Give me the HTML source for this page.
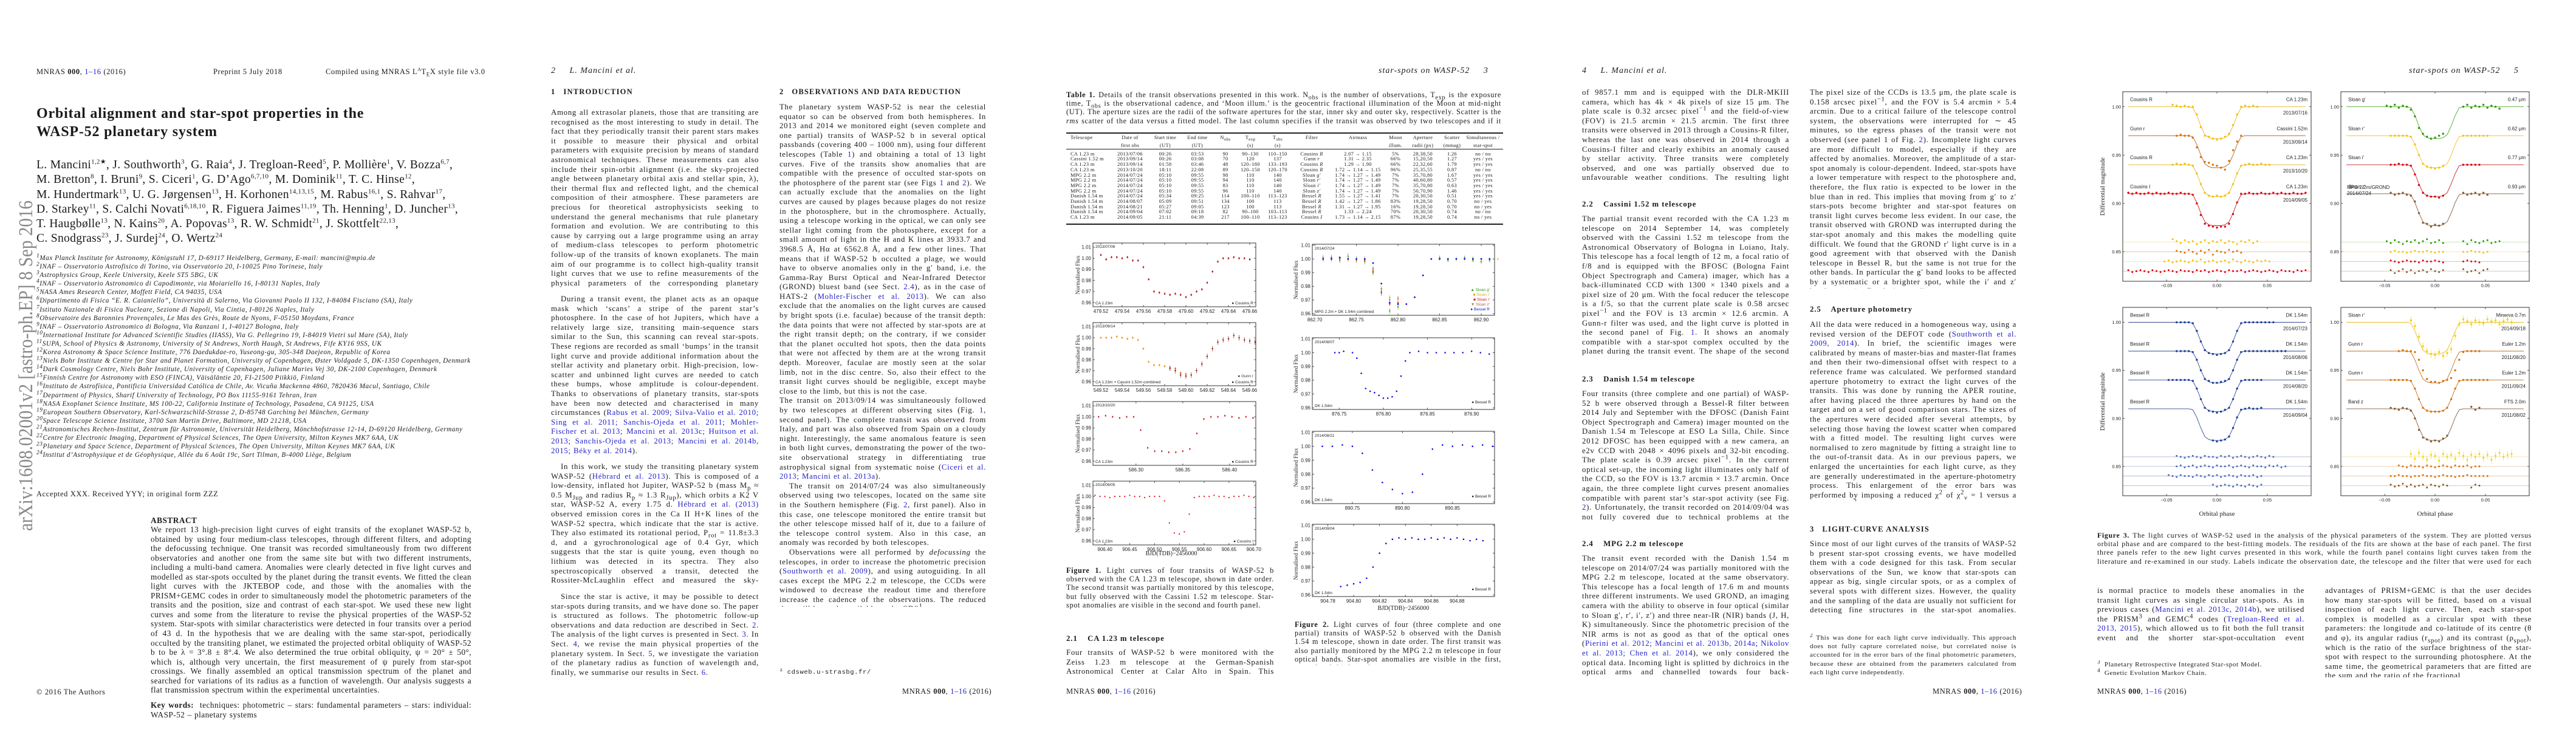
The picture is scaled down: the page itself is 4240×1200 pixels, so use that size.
<!DOCTYPE html>
<html><head><meta charset="utf-8">
<style>
html,body{margin:0;padding:0;background:#fff}
body{width:4240px;height:1200px;position:relative;overflow:hidden;font-family:"Liberation Serif",serif;color:#1a1a1a}
sup,sub{line-height:0}
.a{position:absolute}
.col{position:absolute;font-size:12.8px;line-height:15.6px;letter-spacing:.7px;word-spacing:.5px;text-align:justify;overflow:hidden}
.col p{margin:0;text-indent:0}
.col p+p{text-indent:16px}
.hd{position:absolute;font-size:12.5px;font-weight:bold;letter-spacing:1.2px;white-space:nowrap}
.sub{position:absolute;font-size:12.8px;font-weight:bold;letter-spacing:.9px;white-space:nowrap}
.hdr{position:absolute;font-size:12.5px;letter-spacing:.6px;white-space:nowrap}
.it{font-style:italic}
.lk{color:#2222cc}
.cap{position:absolute;font-size:12.2px;line-height:14.2px;letter-spacing:.7px;text-align:justify;overflow:hidden}
.fn{position:absolute;font-size:11px;line-height:14.2px;letter-spacing:.6px;text-align:justify;overflow:hidden}
.aff{position:absolute;left:60px;font-size:11.2px;font-style:italic;line-height:14.1px;letter-spacing:.55px;white-space:nowrap}
table.t{position:absolute;border-collapse:collapse;font-size:8.4px;letter-spacing:.35px}
table.t td{padding:0;height:8.7px;line-height:8.7px;white-space:nowrap;text-align:center}
table.t td:first-child{text-align:left}
svg text{font-family:"Liberation Sans",sans-serif}
</style></head>
<body>

<!-- ================= PAGE 1 ================= -->
<div class="a" style="left:0;top:0;width:848px;height:1200px">
  <div class="hdr" style="left:60px;top:111px">MNRAS <b>000</b>, <span class="lk">1–16</span> (2016)</div>
  <div class="hdr" style="left:351px;top:111px">Preprint 5 July 2018</div>
  <div class="hdr" style="left:536px;top:111px">Compiled using MNRAS L<sup style="font-size:8px">A</sup>T<sub style="font-size:9px">E</sub>X style file v3.0</div>
  <div class="a" style="left:60px;top:172px;font-size:24px;font-weight:bold;line-height:30px;letter-spacing:.8px;white-space:nowrap">Orbital alignment and star-spot properties in the<br>WASP-52 planetary system</div>
  <div class="a" style="left:60px;top:260px;font-size:19.6px;line-height:24.3px;letter-spacing:.3px;white-space:nowrap">
L. Mancini<sup style="font-size:11px">1,2★</sup>, J. Southworth<sup style="font-size:11px">3</sup>, G. Raia<sup style="font-size:11px">4</sup>, J. Tregloan-Reed<sup style="font-size:11px">5</sup>, P. Mollière<sup style="font-size:11px">1</sup>, V. Bozza<sup style="font-size:11px">6,7</sup>,<br>
M. Bretton<sup style="font-size:11px">8</sup>, I. Bruni<sup style="font-size:11px">9</sup>, S. Ciceri<sup style="font-size:11px">1</sup>, G. D’Ago<sup style="font-size:11px">6,7,10</sup>, M. Dominik<sup style="font-size:11px">11</sup>, T. C. Hinse<sup style="font-size:11px">12</sup>,<br>
M. Hundertmark<sup style="font-size:11px">13</sup>, U. G. Jørgensen<sup style="font-size:11px">13</sup>, H. Korhonen<sup style="font-size:11px">14,13,15</sup>, M. Rabus<sup style="font-size:11px">16,1</sup>, S. Rahvar<sup style="font-size:11px">17</sup>,<br>
D. Starkey<sup style="font-size:11px">11</sup>, S. Calchi Novati<sup style="font-size:11px">6,18,10</sup>, R. Figuera Jaimes<sup style="font-size:11px">11,19</sup>, Th. Henning<sup style="font-size:11px">1</sup>, D. Juncher<sup style="font-size:11px">13</sup>,<br>
T. Haugbølle<sup style="font-size:11px">13</sup>, N. Kains<sup style="font-size:11px">20</sup>, A. Popovas<sup style="font-size:11px">13</sup>, R. W. Schmidt<sup style="font-size:11px">21</sup>, J. Skottfelt<sup style="font-size:11px">22,13</sup>,<br>
C. Snodgrass<sup style="font-size:11px">23</sup>, J. Surdej<sup style="font-size:11px">24</sup>, O. Wertz<sup style="font-size:11px">24</sup></div>
  <div class="aff" style="top:418px">
<sup>1</sup>Max Planck Institute for Astronomy, Königstuhl 17, D-69117 Heidelberg, Germany, E-mail: mancini@mpia.de<br>
<sup>2</sup>INAF – Osservatorio Astrofisico di Torino, via Osservatorio 20, I-10025 Pino Torinese, Italy<br>
<sup>3</sup>Astrophysics Group, Keele University, Keele ST5 5BG, UK<br>
<sup>4</sup>INAF – Osservatorio Astronomico di Capodimonte, via Moiariello 16, I-80131 Naples, Italy<br>
<sup>5</sup>NASA Ames Research Center, Moffett Field, CA 94035, USA<br>
<sup>6</sup>Dipartimento di Fisica “E. R. Caianiello”, Università di Salerno, Via Giovanni Paolo II 132, I-84084 Fisciano (SA), Italy<br>
<sup>7</sup>Istituto Nazionale di Fisica Nucleare, Sezione di Napoli, Via Cintia, I-80126 Naples, Italy<br>
<sup>8</sup>Observatoire des Baronnies Provençales, Le Mas des Grès, Route de Nyons, F-05150 Moydans, France<br>
<sup>9</sup>INAF – Osservatorio Astronomico di Bologna, Via Ranzani 1, I-40127 Bologna, Italy<br>
<sup>10</sup>International Institute for Advanced Scientific Studies (IIASS), Via G. Pellegrino 19, I-84019 Vietri sul Mare (SA), Italy<br>
<sup>11</sup>SUPA, School of Physics &amp; Astronomy, University of St Andrews, North Haugh, St Andrews, Fife KY16 9SS, UK<br>
<sup>12</sup>Korea Astronomy &amp; Space Science Institute, 776 Daedukdae-ro, Yuseong-gu, 305-348 Daejeon, Republic of Korea<br>
<sup>13</sup>Niels Bohr Institute &amp; Centre for Star and Planet Formation, University of Copenhagen, Øster Voldgade 5, DK-1350 Copenhagen, Denmark<br>
<sup>14</sup>Dark Cosmology Centre, Niels Bohr Institute, University of Copenhagen, Juliane Maries Vej 30, DK-2100 Copenhagen, Denmark<br>
<sup>15</sup>Finnish Centre for Astronomy with ESO (FINCA), Väisäläntie 20, FI-21500 Piikkiö, Finland<br>
<sup>16</sup>Instituto de Astrofísica, Pontificia Universidad Católica de Chile, Av. Vicuña Mackenna 4860, 7820436 Macul, Santiago, Chile<br>
<sup>17</sup>Department of Physics, Sharif University of Technology, PO Box 11155-9161 Tehran, Iran<br>
<sup>18</sup>NASA Exoplanet Science Institute, MS 100-22, California Institute of Technology, Pasadena, CA 91125, USA<br>
<sup>19</sup>European Southern Observatory, Karl-Schwarzschild-Strasse 2, D-85748 Garching bei München, Germany<br>
<sup>20</sup>Space Telescope Science Institute, 3700 San Martin Drive, Baltimore, MD 21218, USA<br>
<sup>21</sup>Astronomisches Rechen-Institut, Zentrum für Astronomie, Universität Heidelberg, Mönchhofstrasse 12-14, D-69120 Heidelberg, Germany<br>
<sup>22</sup>Centre for Electronic Imaging, Department of Physical Sciences, The Open University, Milton Keynes MK7 6AA, UK<br>
<sup>23</sup>Planetary and Space Science, Department of Physical Sciences, The Open University, Milton Keynes MK7 6AA, UK<br>
<sup>24</sup>Institut d’Astrophysique et de Géophysique, Allée du 6 Août 19c, Sart Tilman, B-4000 Liège, Belgium</div>
  <svg class="a" style="left:0;top:0" width="70" height="1200">
    <text x="0" y="0" transform="translate(53,874) rotate(-90)" font-size="33" fill="#888" textLength="544" lengthAdjust="spacingAndGlyphs" style="font-family:'Liberation Serif',serif">arXiv:1608.02001v2  [astro-ph.EP]  8 Sep 2016</text>
  </svg>
  <div class="hdr" style="left:60px;top:806px">Accepted XXX. Received YYY; in original form ZZZ</div>
  <div class="a" style="left:248px;top:849px;font-size:13.3px;font-weight:bold;letter-spacing:.5px">ABSTRACT</div>
  <div class="col" style="left:248px;top:864px;width:528px;height:282px;font-size:13.3px;line-height:15.55px;letter-spacing:.45px">We report 13 high-precision light curves of eight transits of the exoplanet WASP-52 b, obtained by using four medium-class telescopes, through different filters, and adopting the defocussing technique. One transit was recorded simultaneously from two different observatories and another one from the same site but with two different instruments, including a multi-band camera. Anomalies were clearly detected in five light curves and modelled as star-spots occulted by the planet during the transit events. We fitted the clean light curves with the JKTEBOP code, and those with the anomalies with the PRISM+GEMC codes in order to simultaneously model the photometric parameters of the transits and the position, size and contrast of each star-spot. We used these new light curves and some from the literature to revise the physical properties of the WASP-52 system. Star-spots with similar characteristics were detected in four transits over a period of 43 d. In the hypothesis that we are dealing with the same star-spot, periodically occulted by the transiting planet, we estimated the projected orbital obliquity of WASP-52 b to be λ = 3°.8 ± 8°.4. We also determined the true orbital obliquity, ψ = 20° ± 50°, which is, although very uncertain, the first measurement of ψ purely from star-spot crossings. We finally assembled an optical transmission spectrum of the planet and searched for variations of its radius as a function of wavelength. Our analysis suggests a flat transmission spectrum within the experimental uncertainties.</div>
  <div class="col" style="left:248px;top:1153px;width:528px;height:32px;font-size:13.3px;line-height:15.5px;letter-spacing:.45px"><b>Key words:</b>&nbsp; techniques: photometric – stars: fundamental parameters – stars: individual: WASP-52 – planetary systems</div>
  <div class="hdr" style="left:60px;top:1132px">© 2016 The Authors</div>
</div>

<!-- ================= PAGE 2 ================= -->
<div class="a" style="left:848px;top:0;width:848px;height:1200px">
  <div class="hdr it" style="left:59px;top:109px;font-size:14px;letter-spacing:1px">2 &nbsp;&nbsp;&nbsp; L. Mancini et al.</div>
  <div class="hd" style="left:59px;top:144px">1 &nbsp; INTRODUCTION</div>
  <div class="col" style="left:59px;top:178px;width:342px;height:298px">Among all extrasolar planets, those that are transiting are recognised as the most interesting to study in detail. The fact that they periodically transit their parent stars makes it possible to measure their physical and orbital parameters with exquisite precision by means of standard astronomical techniques. These measurements can also include their spin-orbit alignment (i.e. the sky-projected angle between planetary orbital axis and stellar spin, λ), their thermal flux and reflected light, and the chemical composition of their atmosphere. These parameters are precious for theoretical astrophysicists seeking to understand the general mechanisms that rule planetary formation and evolution. We are contributing to this cause by carrying out a large programme using an array of medium-class telescopes to perform photometric follow-up of the transits of known exoplanets. The main aim of our programme is to collect high-quality transit light curves that we use to refine measurements of the physical parameters of the corresponding planetary systems in a homogeneous way (<span class="lk">Mancini &amp; Southworth 2016</span>).</div>
  <div class="col" style="left:59px;top:485px;width:342px;height:266px"><p style="text-indent:16px">During a transit event, the planet acts as an opaque mask which ‘scans’ a stripe of the parent star’s photosphere. In the case of hot Jupiters, which have a relatively large size, transiting main-sequence stars similar to the Sun, this scanning can reveal star-spots. These regions are recorded as small ‘bumps’ in the transit light curve and provide additional information about the stellar activity and planetary orbit. High-precision, low-scatter and unbinned light curves are needed to catch these bumps, whose amplitude is colour-dependent. Thanks to observations of planetary transits, star-spots have been now detected and characterised in many circumstances (<span class="lk">Rabus et al. 2009; Silva-Valio et al. 2010; Sing et al. 2011; Sanchis-Ojeda et al. 2011; Mohler-Fischer et al. 2013; Mancini et al. 2013c; Huitson et al. 2013; Sanchis-Ojeda et al. 2013; Mancini et al. 2014b, 2015; Béky et al. 2014</span>).</p></div>
  <div class="col" style="left:59px;top:761px;width:342px;height:204px"><p style="text-indent:16px">In this work, we study the transiting planetary system WASP-52 (<span class="lk">Hébrard et al. 2013</span>). This is composed of a low-density, inflated hot Jupiter, WASP-52 b (mass M<sub>p</sub> ≈ 0.5 M<sub>Jup</sub> and radius R<sub>p</sub> ≈ 1.3 R<sub>Jup</sub>), which orbits a K2 V star, WASP-52 A, every 1.75 d. <span class="lk">Hébrard et al. (2013)</span> observed emission cores in the Ca II H+K lines of the WASP-52 spectra, which indicate that the star is active. They also estimated its rotational period, P<sub>rot</sub> = 11.8±3.3 d, and a gyrochronological age of 0.4 Gyr, which suggests that the star is quite young, even though no lithium was detected in its spectra. They also spectroscopically observed a transit, detected the Rossiter-McLaughlin effect and measured the sky-projected orbital obliquity to be λ = 24°.</p></div>
  <div class="col" style="left:59px;top:975px;width:342px;height:142px"><p style="text-indent:16px">Since the star is active, it may be possible to detect star-spots during transits, and we have done so. The paper is structured as follows. The photometric follow-up observations and data reduction are described in Sect. <span class="lk">2</span>. The analysis of the light curves is presented in Sect. <span class="lk">3</span>. In Sect. <span class="lk">4</span>, we revise the main physical properties of the planetary system. In Sect. <span class="lk">5</span>, we investigate the variation of the planetary radius as function of wavelength and, finally, we summarise our results in Sect. <span class="lk">6</span>.</p></div>
  <div class="hd" style="left:435px;top:144px">2 &nbsp; OBSERVATIONS AND DATA REDUCTION</div>
  <div class="col" style="left:435px;top:169px;width:340px;height:830px">The planetary system WASP-52 is near the celestial equator so can be observed from both hemispheres. In 2013 and 2014 we monitored eight (seven complete and one partial) transits of WASP-52 b in several optical passbands (covering 400 – 1000 nm), using four different telescopes (Table <span class="lk">1</span>) and obtaining a total of 13 light curves. Five of the transits show anomalies that are compatible with the presence of occulted star-spots on the photosphere of the parent star (see Figs <span class="lk">1</span> and <span class="lk">2</span>). We can actually exclude that the anomalies on the light curves are caused by plages because plages do not resize in the photosphere, but in the chromosphere. Actually, using a telescope working in the optical, we can only see stellar light coming from the photosphere, except for a small amount of light in the H and K lines at 3933.7 and 3968.5 Å, Hα at 6562.8 Å, and a few other lines. That means that if WASP-52 b occulted a plage, we would have to observe anomalies only in the g′ band, i.e. the Gamma-Ray Burst Optical and Near-Infrared Detector (GROND) bluest band (see Sect. <span class="lk">2.4</span>), as in the case of HATS-2 (<span class="lk">Mohler-Fischer et al. 2013</span>). We can also exclude that the anomalies on the light curves are caused by bright spots (i.e. faculae) because of the transit depth: the data points that were not affected by star-spots are at the right transit depth; on the contrary, if we consider that the planet occulted hot spots, then the data points that were not affected by them are at the wrong transit depth. Moreover, faculae are mostly seen at the solar limb, not in the disc centre. So, also their effect to the transit light curves should be negligible, except maybe close to the limb, but this is not the case.
<p>The transit on 2013/09/14 was simultaneously followed by two telescopes at different observing sites (Fig. <span class="lk">1</span>, second panel). The complete transit was observed from Italy, and part was also observed from Spain on a cloudy night. Interestingly, the same anomalous feature is seen in both light curves, demonstrating the power of the two-site observational strategy in differentiating true astrophysical signal from systematic noise (<span class="lk">Ciceri et al. 2013; Mancini et al. 2013a</span>).</p>
<p>The transit on 2014/07/24 was also simultaneously observed using two telescopes, located on the same site in the Southern hemisphere (Fig. <span class="lk">2</span>, first panel). Also in this case, one telescope monitored the entire transit but the other telescope missed half of it, due to a failure of the telescope control system. Also in this case, an anomaly was recorded by both telescopes.</p>
<p>Observations were all performed by <i>defocussing</i> the telescopes, in order to increase the photometric precision (<span class="lk">Southworth et al. 2009</span>), and using autoguiding. In all cases except the MPG 2.2 m telescope, the CCDs were windowed to decrease the readout time and therefore increase the cadence of the observations. The reduced data will be made available at the CDS<sup>1</sup></p></div>
  <div class="fn" style="left:435px;top:1100px;width:340px;height:16px;font-family:'Liberation Mono',monospace;font-size:10.5px"><sup>1</sup> cdsweb.u-strasbg.fr/</div>
  <div class="hdr" style="left:637px;top:1131px">MNRAS <b>000</b>, <span class="lk">1–16</span> (2016)</div>
</div>

<!-- ================= PAGE 3 ================= -->
<div class="a" style="left:1696px;top:0;width:848px;height:1200px">
  <div class="hdr it" style="left:573px;top:109px;font-size:14px;letter-spacing:1px">star-spots on WASP-52 &nbsp;&nbsp;&nbsp; 3</div>
  <div class="cap" style="left:59px;top:149px;width:716px;height:58px"><b>Table 1.</b> Details of the transit observations presented in this work. N<sub>obs</sub> is the number of observations, T<sub>exp</sub> is the exposure time, T<sub>obs</sub> is the observational cadence, and ‘Moon illum.’ is the geocentric fractional illumination of the Moon at mid-night (UT). The aperture sizes are the radii of the software apertures for the star, inner sky and outer sky, respectively. Scatter is the <i>rms</i> scatter of the data versus a fitted model. The last column specifies if the transit was observed by two telescopes and if it was affected by star-spot anomalies.</div>
  <div class="a" style="left:59px;top:218px;width:719px;height:2px;background:#222"></div>
  <div class="a" style="left:59px;top:245px;width:719px;height:1px;background:#222"></div>
  <div class="a" style="left:59px;top:368px;width:719px;height:2px;background:#222"></div>
  <table class="t" style="left:66px;top:223px;width:708px">
    <colgroup><col style="width:66px"><col style="width:64px"><col style="width:52px"><col style="width:54px"><col style="width:38px"><col style="width:44px"><col style="width:46px"><col style="width:66px"><col style="width:86px"><col style="width:38px"><col style="width:52px"><col style="width:44px"><col style="width:58px"></colgroup>
    <tr><td>Telescope</td><td>Date of</td><td>Start time</td><td>End time</td><td>N<sub>obs</sub></td><td>T<sub>exp</sub></td><td>T<sub>obs</sub></td><td>Filter</td><td>Airmass</td><td>Moon</td><td>Aperture</td><td>Scatter</td><td>Simultaneous /</td></tr>
    <tr style="height:18px"><td></td><td>first obs</td><td>(UT)</td><td>(UT)</td><td></td><td>(s)</td><td>(s)</td><td></td><td></td><td>illum.</td><td>radii (px)</td><td>(mmag)</td><td>star-spot</td></tr>
    <tr><td>CA 1.23 m</td><td>2013/07/06</td><td>00:26</td><td>03:53</td><td>90</td><td>90–130</td><td>110–150</td><td>Cousins <i>R</i></td><td>2.07 → 1.15</td><td>5%</td><td>28,38,50</td><td>1.26</td><td>no / no</td></tr>
    <tr><td>Cassini 1.52 m</td><td>2013/09/14</td><td>00:26</td><td>03:08</td><td>70</td><td>120</td><td>137</td><td>Gunn <i>r</i></td><td>1.31 → 2.35</td><td>66%</td><td>15,20,50</td><td>1.27</td><td>yes / yes</td></tr>
    <tr><td>CA 1.23 m</td><td>2013/09/14</td><td>01:58</td><td>03:46</td><td>48</td><td>120–180</td><td>133–193</td><td>Cousins <i>R</i></td><td>1.29 → 1.90</td><td>66%</td><td>22,32,60</td><td>1.79</td><td>yes / yes</td></tr>
    <tr><td>CA 1.23 m</td><td>2013/10/20</td><td>18:11</td><td>22:08</td><td>89</td><td>120–150</td><td>120–170</td><td>Cousins <i>R</i></td><td>1.72 → 1.14 → 1.15</td><td>96%</td><td>25,35,55</td><td>0.87</td><td>no / no</td></tr>
    <tr><td>MPG 2.2 m</td><td>2014/07/24</td><td>05:10</td><td>09:55</td><td>98</td><td>110</td><td>140</td><td>Sloan <i>g′</i></td><td>1.74 → 1.27 → 1.49</td><td>7%</td><td>35,70,80</td><td>1.67</td><td>yes / yes</td></tr>
    <tr><td>MPG 2.2 m</td><td>2014/07/24</td><td>05:10</td><td>09:55</td><td>94</td><td>110</td><td>140</td><td>Sloan <i>r′</i></td><td>1.74 → 1.27 → 1.49</td><td>7%</td><td>40,60,80</td><td>0.57</td><td>yes / yes</td></tr>
    <tr><td>MPG 2.2 m</td><td>2014/07/24</td><td>05:10</td><td>09:55</td><td>83</td><td>110</td><td>140</td><td>Sloan <i>i′</i></td><td>1.74 → 1.27 → 1.49</td><td>7%</td><td>35,70,80</td><td>0.63</td><td>yes / yes</td></tr>
    <tr><td>MPG 2.2 m</td><td>2014/07/24</td><td>05:10</td><td>09:55</td><td>96</td><td>110</td><td>140</td><td>Sloan <i>z′</i></td><td>1.74 → 1.27 → 1.49</td><td>7%</td><td>50,70,90</td><td>1.46</td><td>yes / yes</td></tr>
    <tr><td>Danish 1.54 m</td><td>2014/07/24</td><td>05:34</td><td>09:25</td><td>114</td><td>100–110</td><td>113–123</td><td>Bessel <i>R</i></td><td>1.55 → 1.27 → 1.41</td><td>7%</td><td>20,30,50</td><td>0.51</td><td>yes / yes</td></tr>
    <tr><td>Danish 1.54 m</td><td>2014/08/07</td><td>05:09</td><td>09:51</td><td>134</td><td>100</td><td>113</td><td>Bessel <i>R</i></td><td>1.42 → 1.27 → 1.86</td><td>83%</td><td>19,28,50</td><td>0.70</td><td>no / yes</td></tr>
    <tr><td>Danish 1.54 m</td><td>2014/08/21</td><td>05:27</td><td>09:05</td><td>123</td><td>100</td><td>113</td><td>Bessel <i>R</i></td><td>1.31 → 1.27 → 1.95</td><td>16%</td><td>19,28,50</td><td>0.70</td><td>no / yes</td></tr>
    <tr><td>Danish 1.54 m</td><td>2014/09/04</td><td>07:02</td><td>09:18</td><td>82</td><td>90–100</td><td>103–113</td><td>Bessel <i>R</i></td><td>1.33 → 2.24</td><td>70%</td><td>20,30,50</td><td>0.74</td><td>no / no</td></tr>
    <tr><td>CA 1.23 m</td><td>2014/09/05</td><td>21:11</td><td>04:39</td><td>217</td><td>100–110</td><td>113–123</td><td>Cousins <i>I</i></td><td>1.73 → 1.14 → 2.15</td><td>87%</td><td>19,28,50</td><td>0.74</td><td>no / yes</td></tr>
  </table>
  <div class="cap" style="left:59px;top:932px;width:342px;height:74px"><b>Figure 1.</b> Light curves of four transits of WASP-52 b observed with the CA 1.23 m telescope, shown in date order. The second transit was partially monitored by this telescope, but fully observed with the Cassini 1.52 m telescope. Star-spot anomalies are visible in the second and fourth panel.</div>
  <div class="sub" style="left:59px;top:1044px">2.1 &nbsp;&nbsp; CA 1.23 m telescope</div>
  <div class="col" style="left:59px;top:1067px;width:342px;height:48px">Four transits of WASP-52 b were monitored with the Zeiss 1.23 m telescope at the German-Spanish Astronomical Center at Calar Alto in Spain. This telescope has a focal length</div>
  <div class="cap" style="left:435px;top:1021px;width:340px;height:74px"><b>Figure 2.</b> Light curves of four (three complete and one partial) transits of WASP-52 b observed with the Danish 1.54 m telescope, shown in date order. The first transit was also partially monitored by the MPG 2.2 m telescope in four optical bands. Star-spot anomalies are visible in the first, second and third panel.</div>
  <div class="hdr" style="left:59px;top:1131px">MNRAS <b>000</b>, <span class="lk">1–16</span> (2016)</div>
</div>

<!-- ================= PAGE 4 ================= -->
<div class="a" style="left:2544px;top:0;width:848px;height:1200px">
  <div class="hdr it" style="left:60px;top:109px;font-size:14px;letter-spacing:1px">4 &nbsp;&nbsp;&nbsp; L. Mancini et al.</div>
  <div class="col" style="left:60px;top:145px;width:341px;height:158px">of 9857.1 mm and is equipped with the DLR-MKIII camera, which has 4k × 4k pixels of size 15 μm. The plate scale is 0.32 arcsec pixel<sup>−1</sup> and the field-of-view (FOV) is 21.5 arcmin × 21.5 arcmin. The first three transits were observed in 2013 through a Cousins-R filter, whereas the last one was observed in 2014 through a Cousins-I filter and clearly exhibits an anomaly caused by stellar activity. Three transits were completely observed, and one was partially observed due to unfavourable weather conditions. The resulting light curves are plotted in Fig. <span class="lk">1</span>.</div>
  <div class="sub" style="left:60px;top:329px">2.2 &nbsp;&nbsp; Cassini 1.52 m telescope</div>
  <div class="col" style="left:60px;top:353px;width:341px;height:236px">The partial transit event recorded with the CA 1.23 m telescope on 2014 September 14, was completely observed with the Cassini 1.52 m telescope from the Astronomical Observatory of Bologna in Loiano, Italy. This telescope has a focal length of 12 m, a focal ratio of f/8 and is equipped with the BFOSC (Bologna Faint Object Spectrograph and Camera) imager, which has a back-illuminated CCD with 1300 × 1340 pixels and a pixel size of 20 μm. With the focal reducer the telescope is a f/5, so that the current plate scale is 0.58 arcsec pixel<sup>−1</sup> and the FOV is 13 arcmin × 12.6 arcmin. A Gunn-r filter was used, and the light curve is plotted in the second panel of Fig. <span class="lk">1</span>. It shows an anomaly compatible with a star-spot complex occulted by the planet during the transit event. The shape of the second part of the light curve is very similar to that observed from Calar Alto.</div>
  <div class="sub" style="left:60px;top:617px">2.3 &nbsp;&nbsp; Danish 1.54 m telescope</div>
  <div class="col" style="left:60px;top:641px;width:341px;height:220px">Four transits (three complete and one partial) of WASP-52 b were observed through a Bessel-R filter between 2014 July and September with the DFOSC (Danish Faint Object Spectrograph and Camera) imager mounted on the Danish 1.54 m Telescope at ESO La Silla, Chile. Since 2012 DFOSC has been equipped with a new camera, an e2v CCD with 2048 × 4096 pixels and 32-bit encoding. The plate scale is 0.39 arcsec pixel<sup>−1</sup>. In the current optical set-up, the incoming light illuminates only half of the CCD, so the FOV is 13.7 arcmin × 13.7 arcmin. Once again, the three complete light curves present anomalies compatible with parent star’s star-spot activity (see Fig. <span class="lk">2</span>). Unfortunately, the transit recorded on 2014/09/04 was not fully covered due to technical problems at the beginning of the observations.</div>
  <div class="sub" style="left:60px;top:888px">2.4 &nbsp;&nbsp; MPG 2.2 m telescope</div>
  <div class="col" style="left:60px;top:912px;width:341px;height:204px">The transit event recorded with the Danish 1.54 m telescope on 2014/07/24 was partially monitored with the MPG 2.2 m telescope, located at the same observatory. This telescope has a focal length of 17.6 m and mounts three different instruments. We used GROND, an imaging camera with the ability to observe in four optical (similar to Sloan g′, r′, i′, z′) and three near-IR (NIR) bands (J, H, K) simultaneously. Since the photometric precision of the NIR arms is not as good as that of the optical ones (<span class="lk">Pierini et al. 2012; Mancini et al. 2013b, 2014a; Nikolov et al. 2013; Chen et al. 2014</span>), we only considered the optical data. Incoming light is splitted by dichroics in the optical arms and channelled towards four back-illuminated 2048 × 2048 pixel E2V CCDs.</div>
  <div class="col" style="left:435px;top:145px;width:340px;height:330px">The pixel size of the CCDs is 13.5 μm, the plate scale is 0.158 arcsec pixel<sup>−1</sup>, and the FOV is 5.4 arcmin × 5.4 arcmin. Due to a critical failure of the telescope control system, the observations were interrupted for ∼ 45 minutes, so the egress phases of the transit were not observed (see panel 1 of Fig. <span class="lk">2</span>). Incomplete light curves are more difficult to model, especially if they are affected by anomalies. Moreover, the amplitude of a star-spot anomaly is colour-dependent. Indeed, star-spots have a lower temperature with respect to the photosphere and, therefore, the flux ratio is expected to be lower in the blue than in red. This implies that moving from g′ to z′ stars-pots become brighter and star-spot features on transit light curves become less evident. In our case, the transit observed with GROND was interrupted during the star-spot anomaly and this makes the modelling quite difficult. We found that the GROND r′ light curve is in a good agreement with that observed with the Danish telescope in Bessel R, but the same is not true for the other bands. In particular the g′ band looks to be affected by a systematic or a brighter spot, while the i′ and z′ bands are quite flat during totality.</div>
  <div class="sub" style="left:435px;top:502px">2.5 &nbsp;&nbsp; Aperture photometry</div>
  <div class="col" style="left:435px;top:527px;width:340px;height:298px">All the data were reduced in a homogeneous way, using a revised version of the DEFOT code (<span class="lk">Southworth et al. 2009, 2014</span>). In brief, the scientific images were calibrated by means of master-bias and master-flat frames and then their two-dimensional offset with respect to a reference frame was calculated. We performed standard aperture photometry to extract the light curves of the transits. This was done by running the APER routine, after having placed the three apertures by hand on the target and on a set of good comparison stars. The sizes of the apertures were decided after several attempts, by selecting those having the lowest scatter when compared with a fitted model. The resulting light curves were normalised to zero magnitude by fitting a straight line to the out-of-transit data. As in our previous papers, we enlarged the uncertainties for each light curve, as they are generally underestimated in the aperture-photometry process. This enlargement of the error bars was performed by imposing a reduced χ<sup>2</sup> of χ<sup>2</sup><sub>ν</sub> = 1 versus a fitted model<sup>2</sup>. The final light curves are plotted in Figs <span class="lk">1</span> and <span class="lk">2</span>.</div>
  <div class="hd" style="left:435px;top:864px">3 &nbsp; LIGHT-CURVE ANALYSIS</div>
  <div class="col" style="left:435px;top:888px;width:340px;height:126px">Since most of our light curves of the transits of WASP-52 b present star-spot crossing events, we have modelled them with a code designed for this task. From secular observations of the Sun, we know that star-spots can appear as big, single circular spots, or as a complex of several spots with different sizes. However, the quality and the sampling of the data are usually not sufficient for detecting fine structures in the star-spot anomalies. Therefore, it</div>
  <div class="fn" style="left:435px;top:1043px;width:340px;height:72px"><sup>2</sup> This was done for each light curve individually. This approach does not fully capture correlated noise, but correlated noise is accounted for in the error bars of the final photometric parameters, because these are obtained from the parameters calculated from each light curve independently.</div>
  <div class="hdr" style="left:637px;top:1131px">MNRAS <b>000</b>, <span class="lk">1–16</span> (2016)</div>
</div>

<!-- ================= PAGE 5 ================= -->
<div class="a" style="left:3392px;top:0;width:848px;height:1200px">
  <div class="hdr it" style="left:573px;top:109px;font-size:14px;letter-spacing:1px">star-spots on WASP-52 &nbsp;&nbsp;&nbsp; 5</div>
  <div class="cap" style="left:60px;top:874px;width:715px;height:60px;font-size:11.8px"><b>Figure 3.</b> The light curves of WASP-52 used in the analysis of the physical parameters of the system. They are plotted versus orbital phase and are compared to the best-fitting models. The residuals of the fits are shown at the base of each panel. The first three panels refer to the new light curves presented in this work, while the fourth panel contains light curves taken from the literature and re-examined in our study. Labels indicate the observation date, the telescope and the filter that were used for each data set.</div>
  <div class="col" style="left:60px;top:965px;width:341px;height:95px">is normal practice to models these anomalies in the transit light curves as single circular star-spots. As in previous cases (<span class="lk">Mancini et al. 2013c, 2014b</span>), we utilised the PRISM<sup>3</sup> and GEMC<sup>4</sup> codes (<span class="lk">Tregloan-Reed et al. 2013, 2015</span>), which allowed us to fit both the full transit event and the shorter star-spot-occultation event simultaneously. One of the main</div>
  <div class="fn" style="left:60px;top:1087px;width:341px;height:30px"><sup>3</sup> &nbsp;Planetary Retrospective Integrated Star-spot Model.<br><sup>4</sup> &nbsp;Genetic Evolution Markov Chain.</div>
  <div class="col" style="left:435px;top:965px;width:340px;height:150px">advantages of PRISM+GEMC is that the user decides how many star-spots will be fitted, based on a visual inspection of each light curve. Then, each star-spot complex is modelled as a circular spot with these parameters: the longitude and co-latitude of its centre (θ and φ), its angular radius (r<sub>spot</sub>) and its contrast (ρ<sub>spot</sub>), which is the ratio of the surface brightness of the star-spot with respect to the surrounding photosphere. At the same time, the geometrical parameters that are fitted are the sum and the ratio of the fractional</div>
  <div class="hdr" style="left:60px;top:1131px">MNRAS <b>000</b>, <span class="lk">1–16</span> (2016)</div>
</div>

<svg id="charts" class="a" style="left:0;top:0;pointer-events:none" width="4240" height="1200"></svg>

<script>
// ---------- Figure 1 data (CA 1.23m, normalised flux) ----------
const f1p1X = [479.520,479.525,479.530,479.535,479.540,479.545,479.550,479.555,479.560,479.565,479.570,479.575,479.580,479.585,479.590,479.595,479.600,479.605,479.610,479.615,479.620,479.625,479.630,479.635,479.640,479.645,479.650,479.655,479.660];
const f1p1Y = [1.003,0.999,1.001,1.001,1.000,1.001,0.998,0.998,0.992,0.981,0.970,0.969,0.968,0.967,0.968,0.967,0.965,0.967,0.970,0.972,0.978,0.988,0.997,1.000,1.000,1.001,1.000,1.000,0.999];
const f1p2XA = [549.520,549.525,549.530,549.535,549.540,549.545,549.550,549.555,549.560,549.565,549.570,549.575,549.580,549.585,549.590,549.595,549.600];
const f1p2YA = [1.000,1.000,1.000,1.001,1.000,0.999,1.000,0.998,0.990,0.978,0.975,0.975,0.974,0.973,0.972,0.968,0.967];
const f1p2XB = [549.585,549.590,549.595,549.600,549.605,549.610,549.615,549.620,549.625,549.630,549.635,549.640,549.645,549.650,549.655,549.660,549.665];
const f1p2YB = [0.972,0.970,0.966,0.965,0.966,0.970,0.976,0.983,0.990,0.996,0.998,0.999,1.002,1.000,0.998,0.997,0.996];
const f1p3X = [586.260,586.2675,586.275,586.2825,586.290,586.2975,586.305,586.3125,586.320,586.3275,586.335,586.3425,586.350,586.3575,586.365,586.3725,586.380,586.3875,586.395,586.4025,586.410,586.4175,586.425];
const f1p3Y = [1.000,1.001,1.000,0.999,1.000,1.000,0.988,0.972,0.969,0.969,0.968,0.968,0.969,0.971,0.985,0.998,1.000,1.000,1.001,1.000,0.999,1.000,0.999];
const f1p4X = [906.38,906.39,906.40,906.41,906.42,906.43,906.44,906.45,906.46,906.47,906.48,906.49,906.50,906.51,906.52,906.53,906.54,906.55,906.56,906.57,906.58,906.59,906.60,906.61,906.62,906.63,906.64,906.65,906.66,906.67,906.68,906.69,906.70];
const f1p4Y = [1.001,1.000,1.000,0.999,1.000,1.000,1.000,1.001,1.000,1.000,0.999,1.000,1.000,1.000,0.996,0.976,0.967,0.966,0.968,0.984,0.999,1.000,1.000,1.000,1.001,1.000,1.000,0.999,1.000,1.000,1.001,1.000,0.999];
const f1Ticks1 = [479.52,479.54,479.56,479.58,479.60,479.62,479.64,479.66];
const f1Ticks2 = [549.52,549.54,549.56,549.58,549.60,549.62,549.64,549.66];
const f1Ticks3 = [586.30,586.35,586.40];
const f1Ticks4 = [906.40,906.45,906.50,906.55,906.60,906.65,906.70];
const fluxTicks = [0.96,0.97,0.98,0.99,1.00,1.01];

// ---------- Figure 2 data (Danish 1.54m) ----------
const f2p1X = [862.71,862.72,862.73,862.74,862.75,862.76,862.77,862.78,862.79,862.80,862.81,862.82,862.83,862.84,862.85,862.86,862.87,862.88,862.89,862.90,862.91];
const f2p1Y = [1.000,1.000,1.001,1.000,1.000,1.000,0.997,0.982,0.968,0.967,0.967,0.972,0.988,1.000,1.000,1.000,1.000,1.000,1.000,1.000,1.000];
const f2gX = [862.71,862.72,862.73,862.74,862.75,862.76,862.77,862.78,862.79,862.80];
const f2gG = [1.000,1.001,0.999,1.002,1.000,0.998,0.990,0.975,0.962,0.965];
const f2gR = [1.000,1.000,1.001,1.000,1.000,0.999,0.992,0.978,0.972,0.971];
const f2gI = [1.000,1.001,1.000,1.000,1.000,0.999,0.991,0.976,0.967,0.968];
const f2gZ = [1.001,1.000,1.000,1.000,0.999,1.000,0.993,0.978,0.970,0.971];
const f2gX2 = [862.85,862.86,862.87,862.88,862.89,862.90,862.91,862.92];
const f2gG2 = [1.001,0.999,1.000,1.001,0.999,0.998,0.999,null];
const f2gR2 = [1.000,1.000,1.000,1.000,1.001,1.000,1.000,1.000];
const f2p2X = [876.745,876.75,876.755,876.765,876.77,876.775,876.78,876.785,876.79,876.795,876.80,876.805,876.81,876.815,876.82,876.825,876.83,876.84,876.85,876.86,876.87,876.88,876.89,876.90,876.91,876.92];
const f2p2Y = [1.000,1.000,1.001,1.000,0.996,0.985,0.974,0.972,0.971,0.969,0.967,0.967,0.968,0.972,0.983,0.994,1.000,1.001,1.000,1.000,1.000,1.000,1.000,1.001,1.000,0.999];
const f2p3X = [890.72,890.73,890.74,890.75,890.76,890.77,890.78,890.79,890.80,890.81,890.82,890.83,890.84,890.85,890.86,890.87,890.88,890.89];
const f2p3Y = [1.000,1.000,1.001,1.000,0.995,0.983,0.974,0.969,0.966,0.967,0.980,0.998,1.001,1.000,1.001,1.000,1.001,1.000];
const f2p4X = [904.790,904.795,904.800,904.805,904.810,904.815,904.820,904.825,904.830,904.835,904.840,904.845,904.850,904.855,904.860,904.865,904.870,904.875,904.880,904.885,904.890,904.895,904.900];
const f2p4Y = [0.966,0.967,0.968,0.969,0.972,0.980,0.990,0.997,1.000,1.001,1.000,1.001,1.000,1.000,1.001,1.000,1.001,1.000,1.001,1.000,0.999,1.000,0.999];
const f2Ticks1 = [862.70,862.75,862.80,862.85,862.90];
const f2Ticks2 = [876.75,876.80,876.85,876.90];
const f2Ticks3 = [890.75,890.80,890.85];
const f2Ticks4 = [904.78,904.80,904.82,904.84,904.86,904.88];

// ---------- Figure 3 data (orbital phase, flux change in units of 0.001) ----------
const n = null;
const PH = [-0.088,-0.084,-0.080,-0.076,-0.072,-0.068,-0.064,-0.060,-0.056,-0.052,-0.048,-0.044,-0.040,-0.036,-0.032,-0.028,-0.024,-0.020,-0.016,-0.012,-0.008,-0.004,0.000,0.004,0.008,0.012,0.016,0.020,0.024,0.028,0.032,0.036,0.040,0.044,0.048,0.052,0.056,0.060,0.064,0.068,0.072,0.076,0.080,0.084,0.088];
const MODEL = [0,0,0,0,0,0,0,0,0,0,0,0,0,0,0,0,-1,-9,-20,-29,-32,-33,-33,-33,-32,-29,-20,-9,-1,0,0,0,0,0,0,0,0,0,0,0,0,0,0,0,0];
const phaseTicks = [-0.05,0.00,0.05];
const magTicks = [0.85,0.90,0.95,1.00];
const baseTransit = [1.00,0.97,0.94,0.91];
const baseResid = [0.86,0.85,0.84,0.83];
const tlC1 = [n,n,n,n,n,n,n,n,n,n,n,2,1,0,1,0,0,-8,-21,-30,-31,-33,-34,-33,-31,-28,-19,-8,0,1,0,1,0,n,n,n,n,n,n,n,n,n,n,n,n];
const tlC2 = [n,n,n,n,n,n,n,n,n,n,n,n,0,1,0,0,-2,-12,-22,-27,-28,-30,-31,-33,-35,-26,-15,-6,0,n,n,n,n,n,n,n,n,n,n,n,n,n,n,n,n];
const tlC3 = [n,n,n,n,n,n,n,n,n,n,n,0,1,0,1,0,-1,-9,-20,-29,-32,-33,-32,-33,-32,-29,-20,-9,-1,0,1,0,0,1,0,0,n,n,n,n,n,n,n,n,n];
const tlC4 = [1,0,1,0,0,1,0,1,0,0,1,0,0,1,0,0,-1,-10,-22,-31,-33,-34,-35,-34,-34,-31,-21,-9,0,0,1,0,0,1,0,0,1,0,1,0,0,1,0,0,1];
const tlR1 = [n,n,n,n,n,n,n,n,n,n,n,3,1,-1,2,0,1,-2,0,2,-1,1,0,2,-1,1,0,-2,1,0,2,-1,1,n,n,n,n,n,n,n,n,n,n,n,n];
const tlR2 = [n,n,n,n,n,n,n,n,n,n,n,n,1,0,-1,2,0,-2,1,-1,2,-3,1,0,-1,2,0,1,-1,n,n,n,n,n,n,n,n,n,n,n,n,n,n,n,n];
const tlR3 = [n,n,n,n,n,n,n,n,n,0,1,-1,0,1,0,-1,1,0,2,-1,0,1,-1,0,1,-1,2,0,-1,1,0,-1,1,0,1,0,n,n,n,n,n,n,n,n,n];
const tlR4 = [1,-1,0,1,0,-1,1,0,-1,0,1,0,-1,1,0,0,-1,1,0,1,-1,0,1,0,-1,1,0,0,1,-1,0,1,0,-1,0,1,0,-1,1,0,0,-1,1,0,1];
const trC1 = [n,n,n,n,n,n,n,n,n,n,1,0,2,-1,1,0,-3,-10,-22,-28,-31,-33,-32,-30,-28,n,n,n,n,0,2,-1,1,0,2,-1,1,0,-2,n,n,n,n,n,n];
const trC2 = [n,n,n,n,n,n,n,n,n,n,n,0,0,0,0,0,-1,-9,-20,-29,-32,-33,-34,-33,-31,n,n,n,n,0,0,0,0,0,0,0,n,n,n,n,n,n,n,n,n];
const trC3 = [n,n,n,n,n,n,n,n,n,n,n,0,0,1,0,0,-1,-10,-21,-29,-32,-33,-33,-34,-32,n,n,n,n,0,0,0,0,0,n,n,n,n,n,n,n,n,n,n,n];
const trC4 = [n,n,n,n,n,n,n,n,n,n,n,1,-1,0,1,-1,-2,-8,-20,-30,-31,-34,-32,-33,-31,n,n,n,n,1,-1,0,1,-1,1,-1,n,n,n,n,n,n,n,n,n];
const trR1 = [n,n,n,n,n,n,n,n,n,n,1,-1,2,0,-2,1,0,2,-1,1,3,-1,0,2,-1,n,n,n,n,1,-2,2,0,-1,1,2,-1,0,1,n,n,n,n,n,n];
const trR2 = [n,n,n,n,n,n,n,n,n,n,n,0,1,0,0,-1,0,1,0,0,1,0,-1,0,0,n,n,n,n,0,0,1,0,0,-1,0,n,n,n,n,n,n,n,n,n];
const trR3 = [n,n,n,n,n,n,n,n,n,n,n,1,0,-1,0,1,0,0,-1,1,0,0,1,0,-1,n,n,n,n,0,1,0,0,-1,n,n,n,n,n,n,n,n,n,n,n];
const trR4 = [n,n,n,n,n,n,n,n,n,n,n,1,-2,0,2,-1,1,-2,0,1,-1,2,0,-1,1,n,n,n,n,2,-1,0,1,-2,1,2,n,n,n,n,n,n,n,n,n];
const blC1 = [n,n,n,n,n,n,n,n,n,n,n,n,0,0,0,0,-1,-9,-20,-29,-32,-33,-34,-33,-32,-29,-20,-9,-1,0,0,0,0,0,0,0,0,n,n,n,n,n,n,n,n];
const blC2 = [n,n,n,n,n,n,n,n,n,n,n,n,0,0,0,0,-1,-9,-20,-29,-31,-33,-33,-32,-31,-29,-20,-9,-1,0,0,0,0,0,0,0,0,0,0,0,n,n,n,n,n];
const blC3 = [n,n,n,n,n,n,n,n,n,n,0,0,0,0,0,0,-1,-9,-20,-29,-32,-33,-34,-33,-31,-29,-20,-9,-1,0,0,0,0,0,n,n,n,n,n,n,n,n,n,n,n];
const blC4 = [n,n,n,n,n,n,n,n,n,n,n,n,n,n,n,n,n,n,n,n,n,-33,-34,-33,-32,-29,-20,-9,-1,0,1,0,0,1,n,n,n,n,n,n,n,n,n,n,n];
const blR1 = [n,n,n,n,n,n,n,n,n,n,n,n,1,0,-1,0,1,0,-1,1,0,0,-1,1,0,1,-1,0,1,0,-1,0,1,0,-1,1,0,n,n,n,n,n,n,n,n];
const blR2 = [n,n,n,n,n,n,n,n,n,n,n,n,0,1,-1,0,1,-1,0,1,0,-1,1,0,0,1,-1,0,1,0,-1,1,0,0,-1,1,0,1,-1,0,n,n,n,n,n];
const blR3 = [n,n,n,n,n,n,n,n,n,n,1,0,-1,1,0,0,-1,1,0,-1,1,0,1,-1,0,1,0,-1,1,0,0,1,-1,0,n,n,n,n,n,n,n,n,n,n,n];
const blR4 = [n,n,n,n,n,n,n,n,n,n,n,n,n,n,n,n,n,n,n,n,n,1,-1,0,1,0,-1,1,0,-1,1,0,-1,1,n,n,n,n,n,n,n,n,n,n,n];
const brC1 = [n,n,n,n,n,n,n,n,n,n,n,n,n,n,n,n,2,-4,-15,-25,-30,-33,-34,-31,-35,-32,-28,-14,-2,3,1,-2,2,0,-1,3,1,2,-2,1,3,0,n,n,n];
const brC2 = [n,n,n,n,n,n,n,n,n,n,n,n,n,0,1,0,0,-1,-9,-20,-29,-32,-32,-33,-31,-30,-28,-20,-9,-1,0,0,0,0,n,n,n,n,n,n,n,n,n,n,n];
const brC3 = [n,n,n,n,n,n,n,n,n,n,n,0,0,0,0,0,-1,-9,-20,-29,-32,-33,-33,-33,-32,-29,-20,-9,-1,0,0,0,0,0,0,0,n,n,n,n,n,n,n,n,n];
const brC4 = [n,n,n,n,n,n,n,n,n,n,n,1,0,-1,1,0,-2,-10,-22,-30,-32,-34,-33,-34,-31,-28,n,n,n,n,n,2,-1,1,n,n,n,n,n,n,n,n,n,n,n];
const brR1 = [n,n,n,n,n,n,n,n,n,n,n,n,n,n,n,n,3,-2,4,0,-3,2,1,-4,3,0,2,-2,4,1,-3,2,0,3,-1,2,-3,1,4,0,2,3,n,n,n];
const brR2 = [n,n,n,n,n,n,n,n,n,n,n,n,n,1,0,-1,1,0,0,-1,1,0,-1,0,1,0,-1,1,0,0,1,-1,0,0,n,n,n,n,n,n,n,n,n,n,n];
const brR3 = [n,n,n,n,n,n,n,n,n,n,n,0,0,1,0,0,-1,0,0,1,0,0,-1,0,1,0,0,-1,0,0,1,0,0,0,0,0,n,n,n,n,n,n,n,n,n];
const brR4 = [n,n,n,n,n,n,n,n,n,n,n,1,-1,0,2,-1,1,-1,0,1,-2,1,0,-1,1,0,n,n,n,n,n,-2,1,0,n,n,n,n,n,n,n,n,n,n,n];

const svg = document.getElementById('charts');
const NS = svg.namespaceURI;
function mk(tag, attrs, parent){const e=document.createElementNS(NS,tag);for(const k in attrs)e.setAttribute(k,attrs[k]);(parent||svg).appendChild(e);return e;}
function scaleX(F,D,v){return F.x+(v-D[0])/(D[1]-D[0])*F.w;}
function scaleY(F,D,v){return F.y+(D[1]-v)/(D[1]-D[0])*F.h;}

function frame(F, X, Y, xt, yt, xdec, ydec, fs){
  const g = mk('g',{});
  
  
  const r = mk('rect',{x:F.x,y:F.y,width:F.w,height:F.h,fill:'none',stroke:'#333','stroke-width':1},g);
  
  
  xt.forEach(v=>{
    const px=scaleX(F,X,v);
    mk('line',{x1:px,x2:px,y1:F.y+F.h,y2:F.y+F.h-3,stroke:'#333','stroke-width':.8},g);
    mk('line',{x1:px,x2:px,y1:F.y,y2:F.y+3,stroke:'#333','stroke-width':.8},g);
    const t=mk('text',{x:px,y:F.y+F.h+fs+2,'font-size':fs,'text-anchor':'middle',fill:'#222'},g);
    
    
    t.textContent = v.toFixed(xdec).replace('-','−');
  });
  yt.forEach(v=>{
    const py=scaleY(F,Y,v);
    mk('line',{x1:F.x,x2:F.x+3,y1:py,y2:py,stroke:'#333','stroke-width':.8},g);
    mk('line',{x1:F.x+F.w,x2:F.x+F.w-3,y1:py,y2:py,stroke:'#333','stroke-width':.8},g);
    const t=mk('text',{x:F.x-3,y:py+fs*0.35,'font-size':fs,'text-anchor':'end',fill:'#222'},g);
    
    
    t.textContent = v.toFixed(ydec);
  });
  return g;
}
function label(x,y,txt,fs,anchor,name,extra){
  const t=mk('text',Object.assign({x:x,y:y,'font-size':fs,'text-anchor':anchor||'start',fill:'#222'},extra||{}));
  
  
  t.textContent=txt;
  return t;
}
function points(F,X,Y,xs,ys,color,err,r,name){
  const g=mk('g',{});
  
  
  xs.forEach((xv,i)=>{
    const yv=ys[i]; if(yv===null||yv===undefined) return;
    const px=scaleX(F,X,xv), py=scaleY(F,Y,yv);
    if(err>0){ mk('line',{x1:px,x2:px,y1:scaleY(F,Y,yv+err),y2:scaleY(F,Y,yv-err),stroke:color,'stroke-width':.8,opacity:.8},g); }
    const c=mk('circle',{cx:px,cy:py,r:r,fill:color},g);
    
    
  });
}
function yTitle(x,yc,txt,fs,name){
  const t=mk('text',{x:0,y:0,'font-size':fs,'text-anchor':'middle',fill:'#222',transform:'translate('+x+','+yc+') rotate(-90)',style:"font-family:'Liberation Serif',serif"});
  
  
  t.textContent=txt;
}

// ---------- Figure 1 ----------
const F1X = 1696+103, F1W = 268;
const f1Frames = [{x:F1X,y:400,w:F1W,h:105},{x:F1X,y:531,w:F1W,h:104},{x:F1X,y:661,w:F1W,h:105},{x:F1X,y:792,w:F1W,h:105}];
const F1Y = [0.9562,1.0138];
const f1Dom = [[479.5126,479.6657],[549.5126,549.6657],[586.254,586.428],[906.376,906.704]];
const f1TickSets=[f1Ticks1,f1Ticks2,f1Ticks3,f1Ticks4];
const f1Dates=['2013/07/06','2013/09/14','2013/10/20','2014/09/05'];
const f1Tel=['CA 1.23m','CA 1.23m + Cassini 1.52m combined','CA 1.23m','CA 1.23m'];
f1Frames.forEach((F,k)=>{
  frame(F,f1Dom[k],F1Y,f1TickSets[k],fluxTicks,2,2,8);
  yTitle(F.x-22,F.y+F.h/2,'Normalised Flux',9.5,'fig1-y-axis-title');
  label(F.x+4,F.y+8,f1Dates[k],6.5,'start','panel-date-label');
  label(F.x+4,F.y+F.h-4,f1Tel[k],6.5,'start','telescope-label');
});
points(f1Frames[0],f1Dom[0],F1Y,f1p1X,f1p1Y,'#b3171c',0.0012,1.3,'series-cousins-r-20130706');
points(f1Frames[1],f1Dom[1],F1Y,f1p2XA,f1p2YA,'#f2901e',0.0012,1.3,'series-gunn-r-20130914');
points(f1Frames[1],f1Dom[1],F1Y,f1p2XB,f1p2YB,'#8b1010',0.0025,1.2,'series-cousins-r-20130914');
points(f1Frames[2],f1Dom[2],F1Y,f1p3X,f1p3Y,'#c4161c',0.001,1.2,'series-cousins-r-20131020');
points(f1Frames[3],f1Dom[3],F1Y,f1p4X,f1p4Y,'#e8101a',0.0006,1.1,'series-cousins-i-20140905');
label(f1Frames[0].x+F1W-4,f1Frames[0].y+f1Frames[0].h-4,'●  Cousins R',6.5,'end','legend-entry');
label(f1Frames[1].x+F1W-4,f1Frames[1].y+f1Frames[1].h-14,'●  Gunn r',6.5,'end','legend-entry',{fill:'#333'});
label(f1Frames[1].x+F1W-4,f1Frames[1].y+f1Frames[1].h-4,'●  Cousins R',6.5,'end','legend-entry');
label(f1Frames[2].x+F1W-4,f1Frames[2].y+f1Frames[2].h-4,'●  Cousins R',6.5,'end','legend-entry');
label(f1Frames[3].x+F1W-4,f1Frames[3].y+f1Frames[3].h-4,'●  Cousins I',6.5,'end','legend-entry');
label(1696+232,914,'BJD(TDB)−2456000',10,'middle','fig1-x-axis-title',{style:"font-family:'Liberation Serif',serif"});

// ---------- Figure 2 ----------
const F2X = 2160, F2W = 300;
const f2Frames=[{x:F2X,y:402,w:F2W,h:117},{x:F2X,y:556,w:F2W,h:118},{x:F2X,y:710,w:F2W,h:119},{x:F2X,y:863,w:F2W,h:119}];
const F2Y=[0.9588,1.0108];
const f2Dom=[[862.697,862.916],[876.7195,876.926],[890.71,890.892],[904.768,904.909]];
const f2TickSets=[f2Ticks1,f2Ticks2,f2Ticks3,f2Ticks4];
const f2Dates=['2014/07/24','2014/08/07','2014/08/21','2014/09/04'];
const f2Tel=['MPG 2.2m + DK 1.54m combined','DK 1.54m','DK 1.54m','DK 1.54m'];
f2Frames.forEach((F,k)=>{
  frame(F,f2Dom[k],F2Y,f2TickSets[k],fluxTicks,2,2,8);
  yTitle(F.x-24,F.y+F.h/2,'Normalised Flux',9.5,'fig2-y-axis-title');
  label(F.x+4,F.y+9,f2Dates[k],6.5,'start','panel-date-label');
  label(F.x+4,F.y+F.h-4,f2Tel[k],6.5,'start','telescope-label');
  if(k>0) label(F.x+F.w-6,F.y+F.h-10,'●  Bessel R',6.5,'end','legend-entry');
});
points(f2Frames[0],f2Dom[0],F2Y,f2gX,f2gG,'#2e9a1a',0.002,1.2,'series-sloan-g');
points(f2Frames[0],f2Dom[0],F2Y,f2gX,f2gR,'#d8b400',0.0015,1.2,'series-sloan-r');
points(f2Frames[0],f2Dom[0],F2Y,f2gX,f2gI,'#e01818',0.0012,1.2,'series-sloan-i');
points(f2Frames[0],f2Dom[0],F2Y,f2gX,f2gZ,'#a0703a',0.002,1.2,'series-sloan-z');
points(f2Frames[0],f2Dom[0],F2Y,f2gX2,f2gG2,'#2e9a1a',0.0015,1.2,'series-sloan-g-post');
points(f2Frames[0],f2Dom[0],F2Y,f2gX2,f2gR2,'#e8c000',0.001,1.2,'series-sloan-r-post');
points(f2Frames[0],f2Dom[0],F2Y,f2p1X,f2p1Y,'#1010e0',0,1.4,'series-bessel-r-20140724');
points(f2Frames[1],f2Dom[1],F2Y,f2p2X,f2p2Y,'#1010e0',0,1.3,'series-bessel-r-20140807');
points(f2Frames[2],f2Dom[2],F2Y,f2p3X,f2p3Y,'#1010e0',0,1.3,'series-bessel-r-20140821');
points(f2Frames[3],f2Dom[3],F2Y,f2p4X,f2p4Y,'#1010e0',0,1.3,'series-bessel-r-20140904');
const lgNames=['▲ Sloan g′','■ Sloan r′','■ Sloan i′','▼ Sloan z′','● Bessel R'];
const lgCols=['#2e9a1a','#d8b400','#e01818','#a0703a','#1010e0'];
lgNames.forEach((s,i)=>{
  label(f2Frames[0].x+F2W-8,f2Frames[0].y+77+i*8,s,6.5,'end','legend-entry',{fill:lgCols[i]});
});
label(2310,1004,'BJD(TDB)−2456000',10,'middle','fig2-x-axis-title',{style:"font-family:'Liberation Serif',serif"});

// ---------- Figure 3 ----------
const P5=3392;
const F3X=[-0.0935,0.0935], F3Y=[0.8195,1.0155];
const f3Frames=[{x:P5+102,y:151,w:310,h:312},{x:P5+461,y:151,w:310,h:312},{x:P5+102,y:506,w:310,h:310},{x:P5+461,y:506,w:310,h:310}];
const f3Curves=[[tlC1,tlC2,tlC3,tlC4],[trC1,trC2,trC3,trC4],[blC1,blC2,blC3,blC4],[brC1,brC2,brC3,brC4]];
const f3Resid=[[tlR1,tlR2,tlR3,tlR4],[trR1,trR2,trR3,trR4],[blR1,blR2,blR3,blR4],[brR1,brR2,brR3,brR4]];
const f3Colors=[['#f5c000','#e07000','#f5c000','#e00010'],['#2e9a00','#f5c400','#e00010','#8b5a2b'],['#1c3f9c','#1c3f9c','#1c3f9c','#1c3f9c'],['#f5d000','#e07000','#e07000','#8b5a2b']];
const f3Lines=[['#e0a800','#9a4a00','#e0a800','#b00000'],['#2e9a00','#f0b400','#b00000','#6b3f1b'],['#102a80','#102a80','#102a80','#102a80'],['#e0b000','#b05800','#b05800','#6b3f1b']];
const f3Left=[['Cousins R','Gunn r','Cousins R','Cousins I'],['Sloan g′','Sloan r′','Sloan i′','Sloan z′'],['Bessel R','Bessel R','Bessel R','Bessel R'],['Sloan r′','Gunn r','Gunn r','Band z']];
const f3Right=[['CA 1.23m','Cassini 1.52m','CA 1.23m','CA 1.23m'],['0.47 μm','0.62 μm','0.77 μm','0.93 μm'],['DK 1.54m','DK 1.54m','DK 1.54m','DK 1.54m'],['Minerva 0.7m','Euler 1.2m','Euler 1.2m','FTS 2.0m']];
const f3Dates=[['2013/07/16','2013/09/14','2013/10/20','2014/09/05'],[null,null,null,null],['2014/07/23','2014/08/06','2014/08/20','2014/09/04'],['2014/09/18','2011/08/20','2011/09/24','2011/08/02']];
const f3Err=[0.0008,0.0008,0.0008,0.0008];
f3Frames.forEach((F,k)=>{
  frame(F,F3X,F3Y,phaseTicks,magTicks,2,2,7.5);
  if(k%2===0) yTitle(F.x-30,F.y+F.h/2,'Differential magnitude',10.5,'fig3-y-axis-title');
  if(k>=2) label(F.x+F.w/2,F.y+F.h+33,'Orbital phase',11,'middle','fig3-x-axis-title',{style:"font-family:'Liberation Serif',serif"});
  for(let c=0;c<4;c++){
    const base=baseTransit[c], rb=baseResid[c];
    const col=f3Colors[k][c], lc=f3Lines[k][c];
    const rl=mk('line',{x1:F.x,x2:F.x+F.w,y1:scaleY(F,F3Y,rb),y2:scaleY(F,F3Y,rb),stroke:lc,'stroke-width':.8,opacity:.35});
    
    
    const pts=PH.map((p,i)=>scaleX(F,F3X,p).toFixed(1)+','+scaleY(F,F3Y,base+MODEL[i]/1000).toFixed(1)).join(' ');
    const ml=mk('polyline',{points:pts,fill:'none',stroke:lc,'stroke-width':.9,opacity:.85});
    
    
    const ys=f3Curves[k][c].map(v=>v===null?null:base+v/1000);
    const rs=f3Resid[k][c].map(v=>v===null?null:rb+v/1000);
    const e=(k===3&&c===0)?0.004:f3Err[c];
    points(F,F3X,F3Y,PH,ys,col,e,1.7,'light-curve-'+k+'-'+c);
    points(F,F3X,F3Y,PH,rs,k===2?'#4a6fc0':col,e,1.5,'residuals-'+k+'-'+c);
    label(F.x+12,scaleY(F,F3Y,base)-9,f3Left[k][c],8,'start','filter-label');
    label(F.x+F.w-6,scaleY(F,F3Y,base)-9,f3Right[k][c],8,'end','telescope-label');
    if(f3Dates[k][c]) label(F.x+F.w-6,scaleY(F,F3Y,base)+13,f3Dates[k][c],8,'end','date-label');
  }
  if(k===1){
    label(F.x+10,F.y+160,'MPG 2.2m/GROND',8,'start','instrument-label');
    label(F.x+10,F.y+170,'2014/07/24',8,'start','date-label');
  }
});
</script>
</body></html>
